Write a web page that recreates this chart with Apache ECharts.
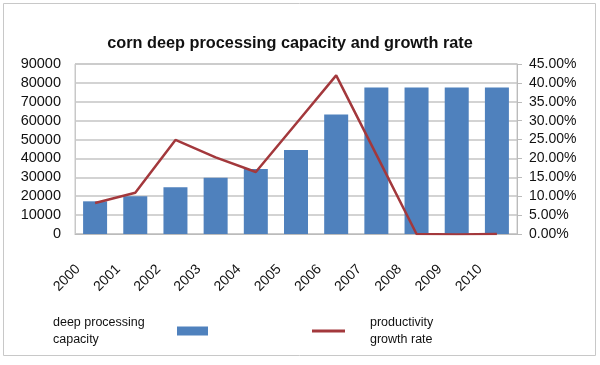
<!DOCTYPE html>
<html><head><meta charset="utf-8">
<script src="https://cdn.jsdelivr.net/npm/echarts@6/dist/echarts.min.js"></script>
<style>html,body{margin:0;padding:0;background:#fff}#c{width:600px;height:365px}</style>
</head><body><div id="c"></div>
<script>
const categories = ['2000','2001','2002','2003','2004','2005','2006','2007','2008','2009','2010'];
const capacity = [17300, 20000, 24800, 29800, 34400, 44500, 63200, 77500, 77500, 77500, 77500];
const growthRate = [8.2, 10.9, 24.9, 20.3, 16.4, 29.2, 42.0, 21.0, 0.0, -0.1, 0.0];
const leftTicks = [0, 10000, 20000, 30000, 40000, 50000, 60000, 70000, 80000, 90000];
const rightTicks = [0, 5, 10, 15, 20, 25, 30, 35, 40, 45];
const titleText = 'corn deep processing capacity and growth rate';
const seriesNames = ['deep processing capacity', 'productivity growth rate'];
const legendLines = {'deep processing capacity': ['deep processing', 'capacity'], 'productivity growth rate': ['productivity', 'growth rate']};

const FONT = 'Liberation Sans';
const chart = echarts.init(document.getElementById('c'), null, {renderer: 'canvas'});
chart.setOption({
  animation: false,
  backgroundColor: '#fff',
  graphic: [{type: 'rect', shape: {x: 3.5, y: 3.5, width: 592, height: 352}, style: {fill: 'none', stroke: '#c8c8c8', lineWidth: 1}, silent: true}],
  title: {text: titleText, left: 285, top: 31, textAlign: 'center',
    textStyle: {fontFamily: FONT, fontWeight: 'bold', fontSize: 16.3, color: '#111'}},
  grid: {left: 75, right: 83, top: 64, bottom: 131, show: true, borderColor: '#c8c8c8', borderWidth: 1},
  legend: [
    {data: [{name: seriesNames[0], icon: 'rect'}], left: 53, top: 314, padding: 0, align: 'right', itemWidth: 31, itemHeight: 9,
     formatter: n => legendLines[n].map(s => '{a|' + s + '}').join('\n'),
     textStyle: {fontFamily: FONT, fontSize: 12.5, color: '#111', lineHeight: 17,
       rich: {a: {width: 119, align: 'left', fontFamily: FONT, fontSize: 12.5, color: '#111', lineHeight: 17}}}},
    {data: [{name: seriesNames[1], icon: 'rect'}], left: 312, top: 314, padding: 0, align: 'left', itemWidth: 33, itemHeight: 3,
     formatter: n => legendLines[n].join('\n'),
     textStyle: {fontFamily: FONT, fontSize: 12.5, color: '#111', lineHeight: 17, padding: [0, 0, 0, 20]}}
  ],
  xAxis: {type: 'category', data: categories,
    axisLine: {lineStyle: {color: '#bbb'}}, axisTick: {show: false},
    axisLabel: {rotate: 45, interval: 0, margin: 16, padding: [0, 24, 0, 0], fontFamily: FONT, fontSize: 14, color: '#111'}},
  yAxis: [
    {type: 'value', min: leftTicks[0], max: leftTicks[leftTicks.length - 1], interval: 10000,
     axisLine: {show: true, lineStyle: {color: '#c8c8c8'}}, axisTick: {show: false},
     splitLine: {lineStyle: {color: '#c4c4c4', width: 1.5}},
     axisLabel: {margin: 14, fontFamily: FONT, fontSize: 14.5, color: '#111', formatter: v => String(v)}},
    {type: 'value', min: rightTicks[0], max: rightTicks[rightTicks.length - 1], interval: 5, position: 'right',
     axisLine: {show: true, lineStyle: {color: '#bbb'}}, axisTick: {show: true, length: 5, lineStyle: {color: '#bbb'}},
     splitLine: {show: false},
     axisLabel: {margin: 12, fontFamily: FONT, fontSize: 14, color: '#111', formatter: v => v.toFixed(2) + '%'}}
  ],
  series: [
    {name: seriesNames[0], type: 'bar', data: capacity, barWidth: 24, yAxisIndex: 0,
     itemStyle: {color: '#4F81BD'}},
    {name: seriesNames[1], type: 'line', data: growthRate, yAxisIndex: 1, showSymbol: false, symbol: 'none',
     lineStyle: {color: '#A3383C', width: 2.5}, itemStyle: {color: '#A3383C'}}
  ]
});
</script></body></html>
